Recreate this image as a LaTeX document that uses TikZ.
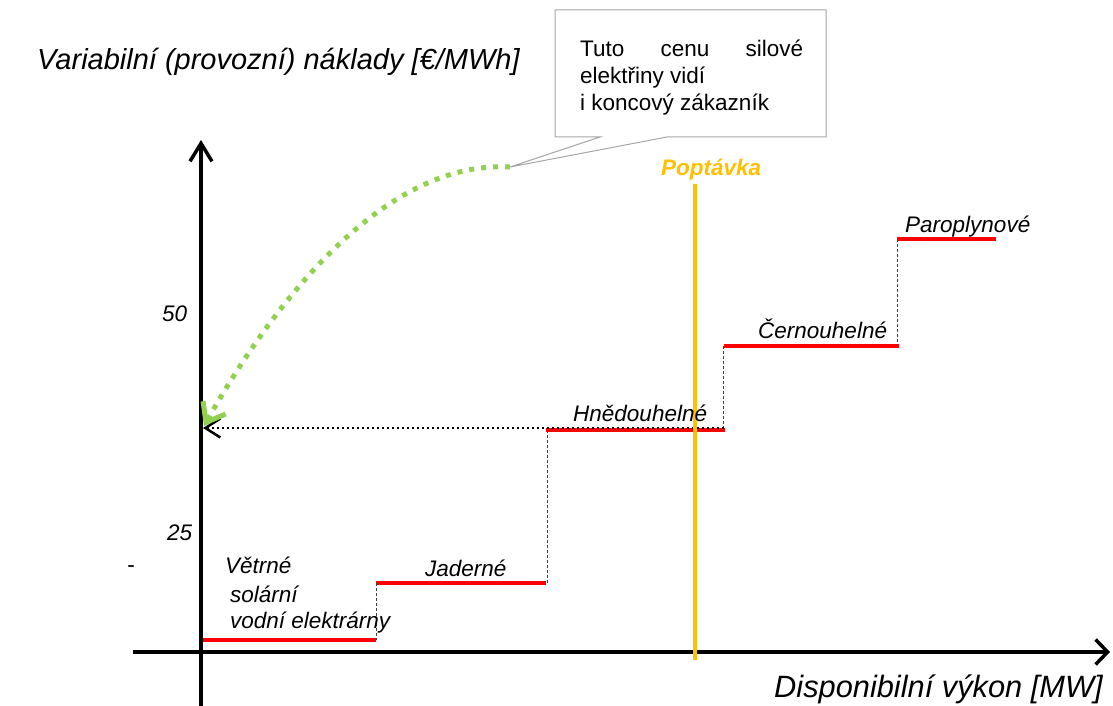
\documentclass[tikz,border=0pt]{standalone}
\usepackage{fontspec}
\setmainfont{Liberation Sans}
\usetikzlibrary{arrows.meta}
\definecolor{redline}{HTML}{FF0000}
\definecolor{demand}{HTML}{FFC000}
\definecolor{greenarr}{HTML}{92D050}
\definecolor{calloutgray}{HTML}{A6A6A6}
\begin{document}
\begin{tikzpicture}[x=1pt,y=-1pt,
  axisline/.style={line width=4pt, black},
  supply/.style={line width=4pt, redline},
  riser/.style={line width=0.9pt, black!75, dash pattern=on 3pt off 2pt},
  lbl/.style={inner sep=0pt, anchor=base west, font=\fontsize{22.5}{27}\selectfont\itshape},
  ctext/.style={inner sep=0pt, anchor=base west, font=\fontsize{22.5}{27}\selectfont},
  bigl/.style={inner sep=0pt, font=\fontsize{29}{34}\selectfont\itshape}
]
\useasboundingbox (0,0) rectangle (1113,706);
% coordinates
\coordinate (yb) at (201,706);
\coordinate (yt) at (201,140);
\coordinate (xl) at (133,652);
\coordinate (xr) at (1110,652);
\coordinate (s1a) at (203,640); \coordinate (s1b) at (376,640);
\coordinate (s2a) at (376,583); \coordinate (s2b) at (546,583);
\coordinate (s3a) at (546,430); \coordinate (s3b) at (725,430);
\coordinate (s4a) at (724,346); \coordinate (s4b) at (899,346);
\coordinate (s5a) at (897,239); \coordinate (s5b) at (996,239);
\coordinate (r1t) at (376,583); \coordinate (r1b) at (376,640);
\coordinate (r2t) at (547,430); \coordinate (r2b) at (547,583);
\coordinate (r3t) at (723,346); \coordinate (r3b) at (723,430);
\coordinate (r4t) at (897,239); \coordinate (r4b) at (897,346);
\coordinate (dots) at (724,428);
\coordinate (yprice) at (203,428);
\coordinate (demtop) at (695,184);
\coordinate (dembot) at (695,660);
\coordinate (ctip) at (510,167);
\coordinate (garrow) at (204,426);
% axes
\draw[axisline, -{Straight Barb[length=18pt,width=22pt,line width=3.5pt]}] (yb) -- (yt);
\draw[axisline, -{Straight Barb[length=12pt,width=25pt,line width=3.5pt]}] (xl) -- (xr);
% supply steps
\draw[supply] (s1a) -- (s1b);
\draw[supply] (s2a) -- (s2b);
\draw[supply] (s3a) -- (s3b);
\draw[supply] (s4a) -- (s4b);
\draw[supply] (s5a) -- (s5b);
\draw[riser] (r1t) -- (r1b);
\draw[riser] (r2t) -- (r2b);
\draw[riser] (r3t) -- (r3b);
\draw[riser] (r4t) -- (r4b);
% price dotted line
\draw[line width=2pt, dash pattern=on 2.5pt off 2.5pt, -{Straight Barb[length=15pt,width=19pt,line width=2.5pt]}] (dots) -- (yprice);
% demand
\draw[demand, line width=4pt] (demtop) -- (dembot);
% green curved arrow
\draw[greenarr, line width=5pt, dash pattern=on 5pt off 7pt, -{Straight Barb[length=17pt,width=26pt,line width=5pt]}] (ctip) .. controls (385,160) and (275,300) .. (garrow);
% callout
\draw[calloutgray, fill=white, line width=1pt] (555,10) -- (826,10) -- (826,137) -- (667,137) -- (ctip) -- (600,137) -- (555,137) -- cycle;
\node[ctext] (c1) at (580,57) {\makebox[223pt][s]{Tuto cenu silové}};
\node[ctext] (c2) at (580,84) {elektřiny vidí};
\node[ctext] (c3) at (580,111) {i koncový zákazník};
% labels
\node[bigl, anchor=base west] (ylabel) at (37,70) {Variabilní (provozní) náklady [€/MWh]};
\node[bigl, anchor=base east, font=\fontsize{30.8}{35}\selectfont\itshape] (xlabel) at (1103,697) {Disponibilní výkon [MW]};
\node[lbl, font=\fontsize{22.5}{27}\selectfont\itshape\bfseries, text=demand] (popt) at (661,175) {Poptávka};
\node[lbl] (paro) at (905,232) {Paroplynové};
\node[lbl] (cerno) at (758,338) {Černouhelné};
\node[lbl] (hnedo) at (573,421) {Hnědouhelné};
\node[lbl] (jad) at (425,576) {Jaderné};
\node[lbl] (vet) at (225,573) {Větrné};
\node[lbl] (sol) at (230,602) {solární};
\node[lbl] (vod) at (230,628) {vodní elektrárny};
\node[lbl] (t50) at (162,321) {50};
\node[lbl] (t25) at (167,540) {25};
\node[inner sep=0pt, font=\fontsize{22.5}{27}\selectfont] (dash) at (131,569) {-};
\end{tikzpicture}
\end{document}
